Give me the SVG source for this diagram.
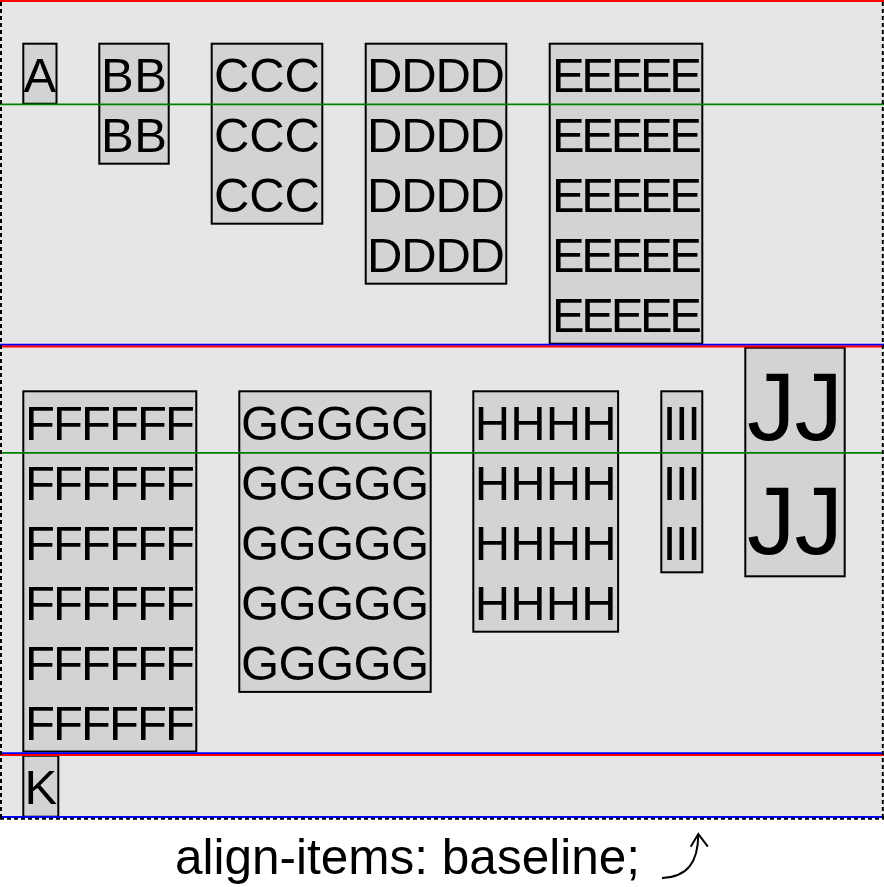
<svg xmlns="http://www.w3.org/2000/svg" width="884" height="887" viewBox="0 0 884 887">
  <style>
    .box { fill: #d3d3d3; stroke: #000; stroke-width: 2; }
    .t { font-family: "Liberation Sans", Arial, Helvetica, sans-serif; font-size: 49px; fill: #000; text-anchor: middle; }
    .big { font-size: 97px; }
    .red { stroke: #ff0000; stroke-width: 2; }
    .blue { stroke: #0000ff; stroke-width: 2; }
    .green { stroke: #008000; stroke-width: 1.8; }
    .dash { stroke: #000; stroke-width: 2; stroke-dasharray: 4 3; fill: none; }
    .cap { font-family: "Liberation Sans", Arial, Helvetica, sans-serif; font-size: 49.5px; fill: #000; }
  </style>

  <rect x="0" y="0" width="884" height="818" fill="#e6e6e6"/>

  <!-- line 1 -->
  <g id="item-A">
    <rect class="box" x="23.3" y="43.7" width="33.2" height="60"/>
    <text class="t" x="39.9" y="92" textLength="32">A</text>
  </g>
  <g id="item-B">
    <rect class="box" x="99.3" y="43.7" width="69.4" height="120"/>
    <text class="t" x="134" y="92" textLength="66">BB</text>
    <text class="t" x="134" y="152" textLength="66">BB</text>
  </g>
  <g id="item-C">
    <rect class="box" x="211.7" y="43.7" width="110.6" height="180"/>
    <text class="t" x="267" y="92" textLength="106">CCC</text>
    <text class="t" x="267" y="152" textLength="106">CCC</text>
    <text class="t" x="267" y="212" textLength="106">CCC</text>
  </g>
  <g id="item-D">
    <rect class="box" x="365.7" y="43.7" width="140.6" height="240"/>
    <text class="t" x="436" y="92" textLength="138">DDDD</text>
    <text class="t" x="436" y="152" textLength="138">DDDD</text>
    <text class="t" x="436" y="212" textLength="138">DDDD</text>
    <text class="t" x="436" y="272" textLength="138">DDDD</text>
  </g>
  <g id="item-E">
    <rect class="box" x="549.7" y="43.7" width="152.6" height="300"/>
    <text class="t" x="627" y="92" textLength="150">EEEEE</text>
    <text class="t" x="627" y="152" textLength="150">EEEEE</text>
    <text class="t" x="627" y="212" textLength="150">EEEEE</text>
    <text class="t" x="627" y="272" textLength="150">EEEEE</text>
    <text class="t" x="627" y="332" textLength="150">EEEEE</text>
  </g>

  <!-- line 2 -->
  <g id="item-F">
    <rect class="box" x="23.3" y="391.3" width="173" height="360.2"/>
    <text class="t" x="110" y="440" textLength="170">FFFFFF</text>
    <text class="t" x="110" y="500" textLength="170">FFFFFF</text>
    <text class="t" x="110" y="560" textLength="170">FFFFFF</text>
    <text class="t" x="110" y="620" textLength="170">FFFFFF</text>
    <text class="t" x="110" y="680" textLength="170">FFFFFF</text>
    <text class="t" x="110" y="740" textLength="170">FFFFFF</text>
  </g>
  <g id="item-G">
    <rect class="box" x="239.3" y="391.3" width="191.4" height="300.6"/>
    <text class="t" x="335" y="440" textLength="188">GGGGG</text>
    <text class="t" x="335" y="500" textLength="188">GGGGG</text>
    <text class="t" x="335" y="560" textLength="188">GGGGG</text>
    <text class="t" x="335" y="620" textLength="188">GGGGG</text>
    <text class="t" x="335" y="680" textLength="188">GGGGG</text>
  </g>
  <g id="item-H">
    <rect class="box" x="473.3" y="391.3" width="144.8" height="240.4"/>
    <text class="t" x="545.7" y="440" textLength="142">HHHH</text>
    <text class="t" x="545.7" y="500" textLength="142">HHHH</text>
    <text class="t" x="545.7" y="560" textLength="142">HHHH</text>
    <text class="t" x="545.7" y="620" textLength="142">HHHH</text>
  </g>
  <g id="item-I">
    <rect class="box" x="661.3" y="391.3" width="41" height="181"/>
    <text class="t" x="681.8" y="440" textLength="38">III</text>
    <text class="t" x="681.8" y="500" textLength="38">III</text>
    <text class="t" x="681.8" y="560" textLength="38">III</text>
  </g>
  <g id="item-J">
    <rect class="box" x="745.3" y="347.7" width="99.4" height="228.6"/>
    <text class="t big" x="795" y="440" textLength="96">JJ</text>
    <text class="t big" x="795" y="554" textLength="96">JJ</text>
  </g>

  <!-- line 3 -->
  <g id="item-K">
    <rect class="box" x="23.3" y="755.7" width="35" height="61"/>
    <text class="t" x="40.8" y="804.3" textLength="32">K</text>
  </g>

  <!-- guide lines -->
  <g id="guides">
    <line class="red" x1="0" y1="1" x2="884" y2="1"/>
    <line class="green" x1="0" y1="104.4" x2="884" y2="104.4"/>
    <line class="blue" x1="0" y1="344.8" x2="884" y2="344.8"/>
    <line class="red" x1="0" y1="346.5" x2="884" y2="346.5"/>
    <line class="green" x1="0" y1="452.8" x2="884" y2="452.8"/>
    <line class="blue" x1="0" y1="753.2" x2="884" y2="753.2"/>
    <line class="red" x1="0" y1="755.1" x2="884" y2="755.1"/>
    <line class="blue" x1="0" y1="817.1" x2="884" y2="817.1"/>
  </g>

  <g id="container-border">
    <line class="dash" x1="1" y1="2" x2="1" y2="818"/>
    <line class="dash" x1="882.8" y1="2" x2="882.8" y2="818"/>
    <line class="dash" x1="0" y1="818.8" x2="884" y2="818.8"/>
  </g>

  <g id="caption">
    <text class="cap" x="175" y="874">align-items: baseline;</text>
  </g>
  <g id="connectors">
    <path d="M662,878 C688,877 698,862 698.3,834.5" fill="none" stroke="#000" stroke-width="2"/>
    <path d="M690.7,846.7 L698.3,834 L707.8,846.7" fill="none" stroke="#000" stroke-width="2" stroke-linejoin="miter"/>
  </g>
</svg>
